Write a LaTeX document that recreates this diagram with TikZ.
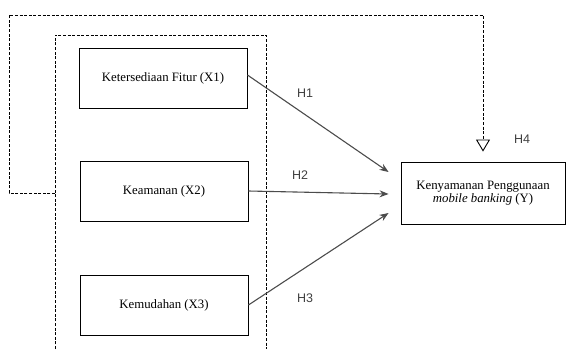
\documentclass[tikz,border=0pt]{standalone}
\usepackage{fontspec}
\setmainfont{Liberation Serif}
\newfontfamily\hfont{Liberation Sans}
\usetikzlibrary{arrows.meta}
\tikzset{
  varbox/.style={draw=black,line width=0.9pt,minimum width=168pt,minimum height=60pt,inner sep=0pt,font=\fontsize{12.8}{15}\selectfont},
  hlink/.style={draw=black!70,line width=1.1pt,-{Stealth[length=9pt,width=7pt]}},
  hlabel/.style={font=\hfont\fontsize{12.5}{14}\selectfont,text=black!75},
  frame/.style={line width=0.9pt,dash pattern=on 3pt off 1.6pt}
}
\begin{document}
\begin{tikzpicture}[x=1pt,y=-1pt]
   \useasboundingbox (0,0) rectangle (566,349);
   % frame round the independent variables
   \coordinate (fl) at (55,193);
   \coordinate (fb) at (55,349);
   \coordinate (fr) at (266,349);
   \draw [frame] (fb) |- (266,35) -- (fr);
   % variables
   \node [varbox] (x1) at (163,78) {Ketersediaan Fitur (X1)};
   \node [varbox] (x2) at (164,191) {Keamanan (X2)};
   \node [varbox] (x3) at (164,305) {Kemudahan (X3)};
   \node [varbox,minimum width=164pt,minimum height=62pt,align=center] (y) at (483,193)
      {Kenyamanan Penggunaan\\[-2pt]\textit{mobile banking} (Y)};
   % joint effect
   \coordinate (ytop) at ([yshift=10pt]y.north);
   \draw [frame,-{Triangle[open,length=12pt,width=14pt,line width=0.9pt]}]
      (fl) -- (9,193) -- (9,15) -| (ytop);
   % hypotheses
   \draw [hlink] ([yshift=3pt]x1.east) -- ([xshift=-12pt,yshift=21pt]y.west);
   \draw [hlink] (x2.east) -- ([xshift=-12pt,yshift=-1pt]y.west);
   \draw [hlink] (x3.east) -- ([xshift=-12pt,yshift=-20pt]y.west);
   \node [hlabel] (h1) at (305,93) {H1};
   \node [hlabel] (h2) at (300,175) {H2};
   \node [hlabel] (h3) at (305,298) {H3};
   \node [hlabel] (h4) at (522,139) {H4};
\end{tikzpicture}
\end{document}
